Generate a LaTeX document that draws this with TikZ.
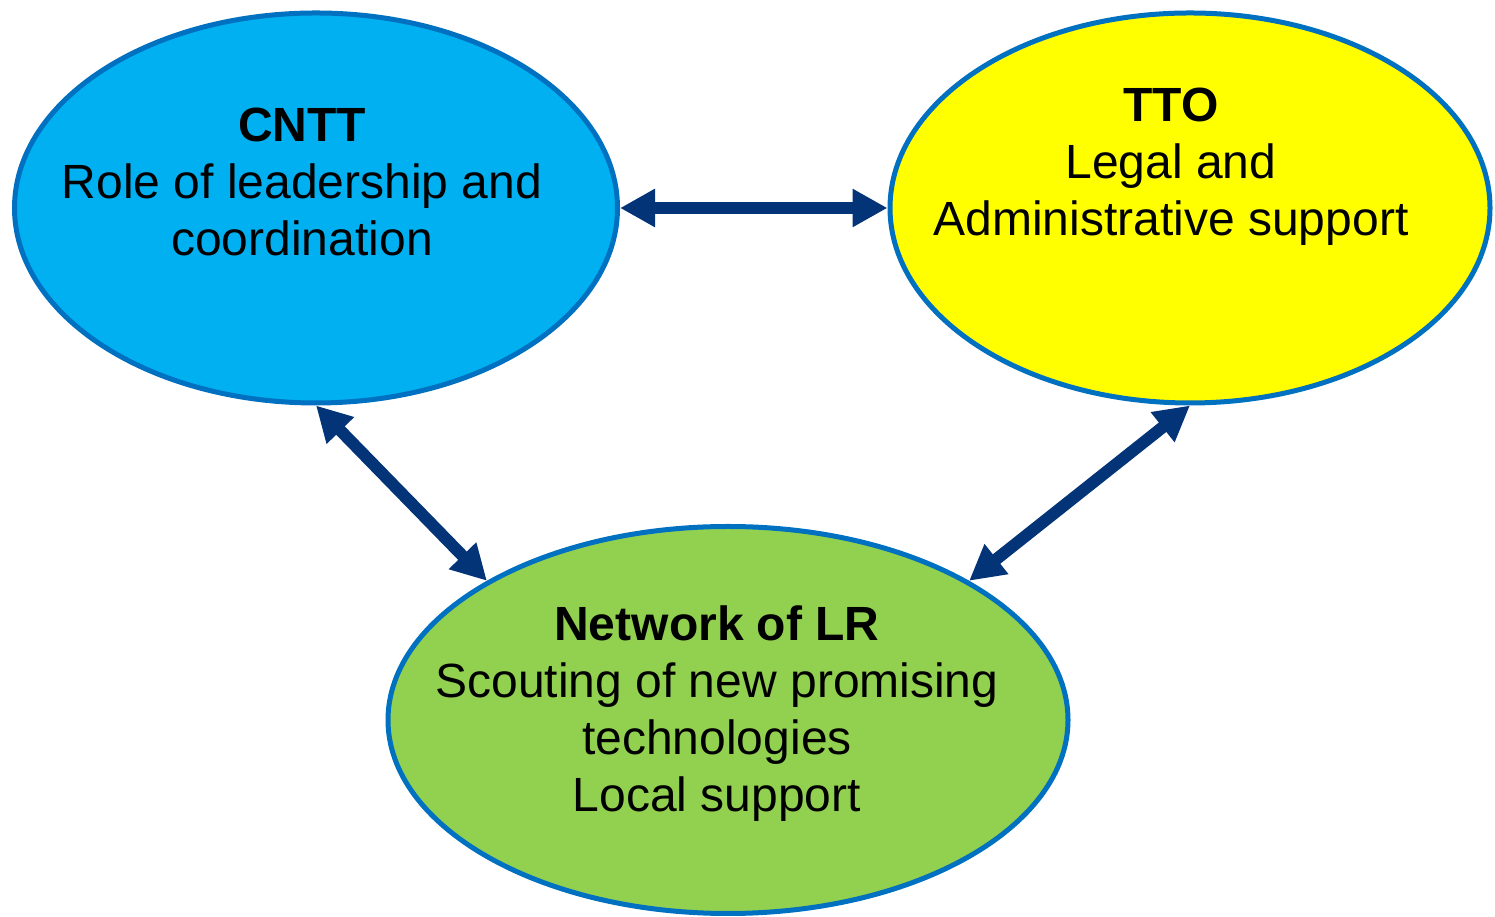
\documentclass[tikz,border=0pt]{standalone}
\usepackage{fontspec}
\setmainfont{Liberation Sans}
\usetikzlibrary{shapes.geometric,arrows.meta}
\definecolor{cnttblue}{RGB}{0,176,240}
\definecolor{ttoyellow}{RGB}{255,255,0}
\definecolor{lrgreen}{RGB}{146,208,80}
\definecolor{rim}{RGB}{0,112,192}
\definecolor{linkblue}{RGB}{4,52,120}
\begin{document}
\begin{tikzpicture}[x=1pt,y=1pt,
  hub/.style={ellipse, draw=rim, line width=5pt, inner sep=0pt},
  hubtext/.style={font=\fontsize{48}{57}\selectfont, align=center, anchor=base, inner sep=0pt},
  link/.style={draw=linkblue, line width=12pt,
    {Triangle[length=35pt,width=36pt]}-{Triangle[length=35pt,width=36pt]}}]
\useasboundingbox (0,0) rectangle (1495,917);

% the three partners
\node[hub, fill=cnttblue, minimum width=603pt, minimum height=390pt] (cntt) at (316,709) {};
\node[hub, fill=ttoyellow, minimum width=600pt, minimum height=390pt] (tto) at (1190,709) {};
\node[hub, fill=lrgreen, minimum width=680pt, minimum height=387pt] (net) at (728,197) {};

% their roles (anchored at the baseline of the last line)
\node[hubtext] (cnttlabel) at (302,661) {\textbf{CNTT}\\Role of leadership and\\coordination};
\node[hubtext] (ttolabel) at (1171,681) {\textbf{TTO}\\Legal and\\Administrative support};
\node[hubtext] (netlabel) at (717,105) {\textbf{Network of LR}\\Scouting of new promising\\technologies\\Local support};

% two-way links
\draw[link] (cntt.east) -- (tto.west);
\draw[link] (cntt.south) -- (net.150);
\draw[link] (tto.south) -- (net.30);
\end{tikzpicture}
\end{document}
